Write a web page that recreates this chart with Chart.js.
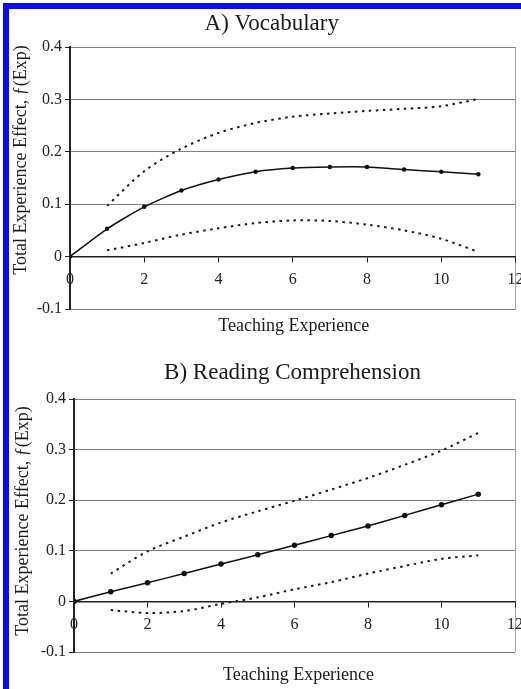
<!DOCTYPE html>
<html>
<head>
<meta charset="utf-8">
<title>Total Experience Effect</title>
<script src="https://cdn.jsdelivr.net/npm/chart.js@4.4.1/dist/chart.umd.min.js"></script>
<style>
    html, body { margin: 0; padding: 0; background: #fff; width: 521px; height: 689px; overflow: hidden; }
    canvas { position: absolute; left: 0; }
    #chartA { top: 0; }
    #chartB { top: 345px; }
    #frame {
        position: absolute; left: 3px; top: 3px; width: 560px; height: 692px;
        box-sizing: border-box; border: 6px solid #0a0af5; border-right: none;
        pointer-events: none;
    }
</style>
</head>
<body>
<canvas id="chartA" width="521" height="345"></canvas>
<canvas id="chartB" width="521" height="344"></canvas>
<div id="frame"></div>

<script>
// Teaching experience (years) on the x axis
const expYears = [0, 1, 2, 3, 4, 5, 6, 7, 8, 9, 10, 11];

// A) Vocabulary: estimate and confidence bounds
const vocabEffect = [0, 0.053, 0.095, 0.126, 0.147, 0.162, 0.169, 0.171, 0.171, 0.166, 0.162, 0.157];
const vocabUpper = [null, 0.097, 0.163, 0.206, 0.236, 0.255, 0.267, 0.273, 0.278, 0.282, 0.287, 0.301];
const vocabLower = [null, 0.012, 0.026, 0.042, 0.054, 0.064, 0.069, 0.068, 0.061, 0.050, 0.034, 0.009];

// B) Reading Comprehension: estimate and confidence bounds
const readEffect = [0, 0.019, 0.037, 0.055, 0.074, 0.092, 0.111, 0.130, 0.149, 0.170, 0.191, 0.212];
const readUpper = [null, 0.055, 0.099, 0.128, 0.156, 0.178, 0.199, 0.221, 0.244, 0.270, 0.298, 0.333];
const readLower = [null, -0.017, -0.023, -0.019, -0.005, 0.008, 0.024, 0.038, 0.055, 0.070, 0.084, 0.091];

// Tick labels
const xTicks = [0, 2, 4, 6, 8, 10, 12];
const yTicks = [-0.1, 0, 0.1, 0.2, 0.3, 0.4];

const xTitle = 'Teaching Experience';
const yTitle = 'Total Experience Effect, \u0192(Exp)';

Chart.defaults.font.family = '"Liberation Serif", "Times New Roman", serif';
Chart.defaults.color = '#222';

// nudge the title / subtitle boxes sideways after layout
const shiftTitles = {
    id: 'shiftTitles',
    afterLayout(chart, args, opts) {
        chart.boxes.forEach(function(b) {
            if (!b.options || b.options.text === undefined) return;
            const dx = b.options.position === 'top' ? opts.top : opts.bottom;
            if (dx) {
                b.left += dx;
                b.right += dx;
            }
        });
    }
};

function toPoints(values) {
    return expYears
        .map((x, i) => ({ x: x, y: values[i] }))
        .filter(p => p.y !== null);
}

function makeChart(id, p) {
    return new Chart(document.getElementById(id), {
        type: 'line',
        data: {
            datasets: [
                {
                    data: toPoints(p.upper),
                    borderColor: '#1a1a1a',
                    borderWidth: 2,
                    borderDash: [2.5, 4.5],
                    pointRadius: 0,
                    tension: 0.3
                },
                {
                    data: toPoints(p.lower),
                    borderColor: '#1a1a1a',
                    borderWidth: 2,
                    borderDash: [2.5, 4.5],
                    pointRadius: 0,
                    tension: 0.3
                },
                {
                    data: toPoints(p.effect),
                    borderColor: '#111',
                    borderWidth: 1.5,
                    pointRadius: p.dot,
                    pointBackgroundColor: '#111',
                    pointBorderColor: '#111',
                    tension: 0.2
                }
            ]
        },
        options: {
            responsive: false,
            animation: false,
            layout: { padding: { left: 0, top: 0, right: p.padRight, bottom: 0 } },
            plugins: {
                legend: { display: false },
                tooltip: { enabled: false },
                title: {
                    display: true,
                    text: p.title,
                    fullSize: false,
                    font: { size: 23, weight: 'normal' },
                    padding: p.titlePad,
                    color: '#1a1a1a'
                },
                subtitle: {
                    display: true,
                    text: xTitle,
                    position: 'bottom',
                    fullSize: false,
                    font: { size: 18 },
                    padding: p.subPad,
                    color: '#1a1a1a'
                },
                shiftTitles: p.shift
            },
            scales: {
                x: {
                    type: 'linear',
                    position: { y: 0 },
                    min: 0,
                    max: 12,
                    afterBuildTicks: s => { s.ticks = xTicks.map(v => ({ value: v })); },
                    afterFit: s => { s.paddingLeft = 0; s.paddingRight = 0; },
                    ticks: {
                        font: { size: 16 },
                        padding: 9,
                        maxRotation: 0,
                        autoSkip: false,
                        color: '#222'
                    },
                    grid: {
                        drawOnChartArea: true,
                        color: c => (c.tick && c.tick.value === 12) ? '#a0a0a0' : 'rgba(0,0,0,0)',
                        tickColor: '#222',
                        tickLength: 5
                    },
                    border: { display: true, color: '#222', width: 1.5 }
                },
                y: {
                    type: 'linear',
                    min: -0.1,
                    max: 0.4,
                    afterBuildTicks: s => { s.ticks = yTicks.map(v => ({ value: v })); },
                    afterFit: s => { s.width = p.yWidth; },
                    ticks: {
                        font: { size: 16 },
                        padding: 3,
                        color: '#222',
                        callback: v => String(Number(v.toFixed(1)))
                    },
                    grid: {
                        color: c => (c.tick && Math.abs(c.tick.value) < 1e-9) ? '#222' : '#808080',
                        tickColor: '#222',
                        tickLength: 5,
                        lineWidth: 1
                    },
                    border: { display: true, color: '#222', width: 2 },
                    title: {
                        display: true,
                        text: ' '.repeat(p.ySpaces) + yTitle,
                        font: { size: 18 },
                        padding: { top: p.yTitlePad, bottom: 0 },
                        color: '#1a1a1a'
                    }
                }
            }
        },
        plugins: [shiftTitles]
    });
}

document.addEventListener('DOMContentLoaded', function() {
    makeChart('chartA', {
        title: 'A) Vocabulary',
        effect: vocabEffect,
        upper: vocabUpper,
        lower: vocabLower,
        dot: 1.5,
        padRight: 3,
        yWidth: 70,
        titlePad: { top: 10, bottom: 9.4 },
        subPad: { top: 6.2, bottom: 8.2 },
        shift: { top: -21, bottom: 1 },
        ySpaces: 8,
        yTitlePad: 10
    });

    makeChart('chartB', {
        title: 'B) Reading Comprehension',
        effect: readEffect,
        upper: readUpper,
        lower: readLower,
        dot: 2,
        padRight: 6,
        yWidth: 74,
        titlePad: { top: 14.2, bottom: 12.2 },
        subPad: { top: 12.2, bottom: 3.2 },
        shift: { top: -2, bottom: 4 },
        ySpaces: 2,
        yTitlePad: 12.5
    });
});
</script>
</body>
</html>
